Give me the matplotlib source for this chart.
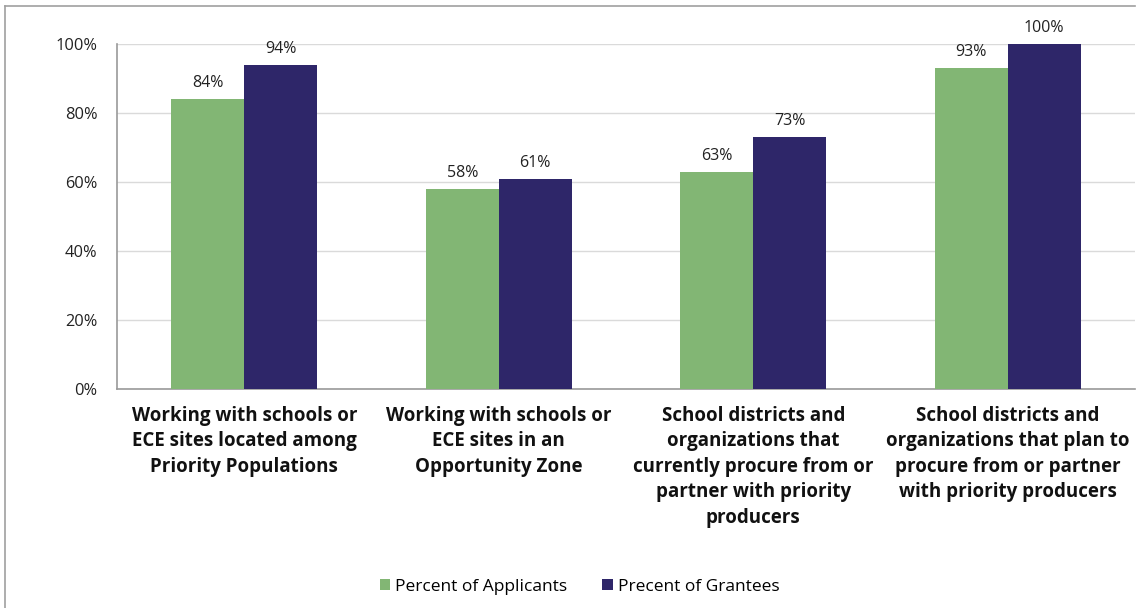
import numpy as np
import matplotlib.pyplot as plt
from matplotlib.lines import Line2D

plt.rcParams['font.family'] = ['Open Sans', 'DejaVu Sans']

# 类别与两组数据
categories = [
    "Working with schools or\nECE sites located among\nPriority Populations",
    "Working with schools or\nECE sites in an\nOpportunity Zone",
    "School districts and\norganizations that\ncurrently procure from or\npartner with priority\nproducers",
    "School districts and\norganizations that plan to\nprocure from or partner\nwith priority producers",
]
applicants = [84, 58, 63, 93]
grantees = [94, 61, 73, 100]
series_names = ["Percent of Applicants", "Precent of Grantees"]
yticks = [0, 20, 40, 60, 80, 100]

green = "#82B674"
navy = "#2E2669"

fig = plt.figure(figsize=(11.43, 6.08), dpi=100)
ax = fig.add_axes([0.1024, 0.360, 0.8906, 0.5676])

x = np.arange(len(categories))
w = 0.287
b1 = ax.bar(x - w / 2, applicants, w, color=green, label=series_names[0], zorder=3)
b2 = ax.bar(x + w / 2, grantees, w, color=navy, label=series_names[1], zorder=3)

for bars, vals in ((b1, applicants), (b2, grantees)):
    for r, v in zip(bars, vals):
        ax.text(r.get_x() + r.get_width() / 2, v + 2.3, f"{v}%",
                ha="center", va="bottom", fontsize=11.5, color="#222222")

ax.set_xlim(-0.5, 3.5)
ax.set_ylim(0, 100)
ax.set_yticks(yticks)
ax.set_yticklabels([f"{t}%" for t in yticks], fontsize=11.8, color="#222222")
ax.set_xticks(x)
ax.set_xticklabels(categories, fontsize=13.5, fontweight="bold", linespacing=1.37,
                   color="#111111", va="top")
ax.tick_params(axis="x", length=0, pad=12)
ax.tick_params(axis="y", length=0, pad=14)

ax.grid(axis="y", color="#DADADA", linewidth=1, zorder=0)
for s in ("top", "right"):
    ax.spines[s].set_visible(False)
ax.spines["left"].set_color("#9A9A9A")
ax.spines["bottom"].set_color("#9A9A9A")
ax.spines["left"].set_linewidth(1.2)
ax.spines["bottom"].set_linewidth(1.2)

fig.legend(handles=[b1, b2], labels=series_names, loc="center",
           bbox_to_anchor=(0.507, 0.035), ncol=2, frameon=False, fontsize=12.5,
           handlelength=0.6, handleheight=0.6, handletextpad=0.3, columnspacing=2.0)

# 外框（上边和左边）
fig.add_artist(Line2D([5 / 1143, 1135 / 1143], [1 - 6 / 608, 1 - 6 / 608],
                      transform=fig.transFigure, color="#A0A0A0", linewidth=1.2))
fig.add_artist(Line2D([5 / 1143, 5 / 1143], [0, 1 - 6 / 608],
                      transform=fig.transFigure, color="#A0A0A0", linewidth=1.2))

fig.savefig("out.png", dpi=100)
